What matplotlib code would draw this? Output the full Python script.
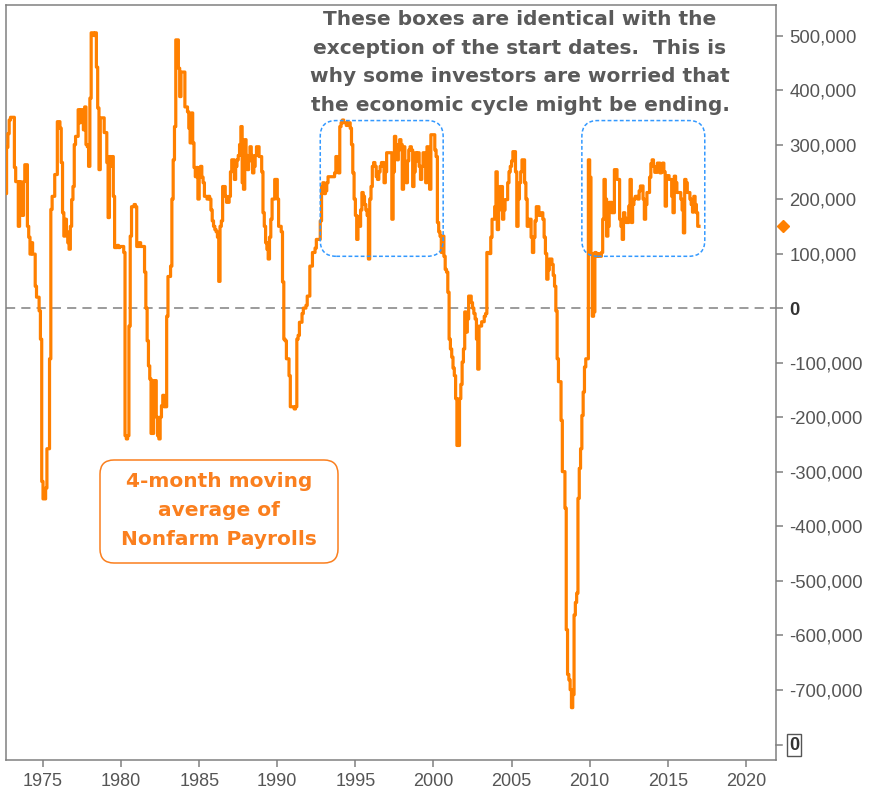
import matplotlib
matplotlib.use('Agg')
import matplotlib.pyplot as plt
import pandas as pd
from matplotlib.patches import FancyBboxPatch
from matplotlib.transforms import IdentityTransform, blended_transform_factory

# 4-month moving average of monthly nonfarm payroll changes
start_month = '1972-08'
nfp_1970s = [
    210, 295, 320, 345, 350,                                          # 1972 Aug-Dec
    350, 350, 258, 232, 232, 150, 232, 200, 170, 232, 263, 263,       # 1973
    150, 130, 99, 120, 99, 99, 40, 20, 20, -5, -57, -318,             # 1974
    -350, -350, -330, -258, -258, -93, 181, 205, 205, 245, 245, 342,  # 1975
    342, 330, 267, 175, 132, 163, 140, 120, 108, 150, 199, 223,       # 1976
    300, 315, 315, 364, 340, 364, 364, 327, 369, 300, 296, 260,       # 1977
    385, 505, 505, 500, 505, 442, 367, 254, 349, 349, 349, 322,       # 1978
    322, 267, 166, 278, 260, 278, 205, 111, 111, 115, 111, 113,       # 1979
]
nfp_1980s = [
    113, 113, 102, -234, -240, -234, -33, 132, 186, 186, 190, 186,
    113, 113, 120, 113, 113, 113, 66, 0, -60, -106, -130, -230,
    -230, -133, -133, -200, -234, -240, -200, -179, -160, -181, -181, -15,
    58, 58, 77, 200, 272, 333, 492, 492, 440, 388, 433, 433,
    433, 369, 369, 360, 330, 303, 358, 303, 258, 241, 258, 200,
    248, 260, 240, 230, 205, 205, 200, 205, 200, 180, 160, 150,
    144, 140, 130, 49, 150, 160, 223, 223, 205, 194, 194, 205,
    250, 272, 272, 236, 260, 272, 280, 300, 333, 230, 218, 309,
    280, 254, 270, 296, 280, 248, 260, 280, 296, 296, 278, 278,
    250, 175, 150, 120, 108, 90, 130, 163, 200, 200, 236, 236,
]
nfp_1990s = [
    200, 150, 150, 140, 48, -57, -60, -93, -93, -124, -181, -181,
    -181, -185, -181, -57, -50, -26, -26, -10, 0, 0, 5, 22,
    22, 77, 77, 102, 102, 110, 126, 126, 126, 160, 223, 230,
    210, 215, 230, 241, 241, 241, 241, 241, 248, 278, 260, 248,
    333, 340, 345, 340, 340, 335, 340, 340, 330, 300, 248, 200,
    170, 126, 168, 150, 180, 212, 205, 190, 180, 170, 90, 200,
    223, 260, 267, 260, 241, 236, 250, 260, 267, 267, 230, 250,
    285, 285, 285, 285, 163, 250, 315, 300, 272, 290, 309, 300,
    218, 296, 260, 230, 270, 290, 296, 290, 223, 250, 285, 270,
    285, 260, 236, 260, 285, 285, 230, 296, 270, 218, 318, 318,
]
nfp_2000s = [
    318, 290, 278, 157, 140, 132, 102, 132, 95, 71, 66, 29,
    -57, -75, -90, -110, -124, -166, -252, -252, -166, -140, -99, -75,
    -7, -44, -20, 22, 22, 10, 0, -10, -20, -57, -112, -33,
    -33, -25, -25, -15, -10, 102, 102, 100, 130, 163, 163, 186,
    250, 144, 180, 223, 223, 163, 180, 199, 199, 230, 250, 260,
    270, 287, 287, 250, 150, 200, 230, 250, 272, 272, 230, 200,
    150, 163, 163, 130, 102, 130, 160, 186, 186, 170, 170, 175,
    163, 130, 100, 53, 70, 90, 90, 80, 60, 40, -5, -93,
    -135, -135, -206, -300, -300, -367, -590, -672, -682, -700, -733, -709,
    -563, -540, -523, -349, -294, -258, -197, -154, -108, -93, -93, 272,
]
nfp_2010s = [
    240, 100, -15, -7, 102, 95, 100, 95, 95, 102, 163, 236,
    200, 132, 150, 194, 194, 175, 175, 254, 254, 236, 236, 163,
    150, 126, 175, 165, 157, 157, 187, 236, 157, 190, 200, 205,
    205, 200, 215, 224, 224, 200, 163, 190, 212, 212, 240, 265,
    272, 260, 249, 249, 266, 266, 248, 250, 266, 250, 187, 243,
    243, 236, 236, 205, 175, 242, 230, 212, 212, 212, 200, 180,
    138, 236, 230, 212, 212, 200, 190, 176, 205, 190, 175, 150,
    150,
]

box_starts = [1992.75, 2009.5]   # the two "identical" boxes
box_span = 7.87                  # years
box_low, box_high = 95000, 344000

year_ticks = list(range(1975, 2021, 5))
value_ticks = list(range(-700000, 500001, 100000))

values = [v * 1000 for v in nfp_1970s + nfp_1980s + nfp_1990s + nfp_2000s + nfp_2010s]
months = pd.date_range(start_month, periods=len(values), freq='MS')
years = [d.year + (d.month - 1) / 12 for d in months]

ORANGE = '#FF8000'
GRAY = '#808080'
TXT = '#555555'
TICKFONT = ['Liberation Sans', 'DejaVu Sans']

fig = plt.figure(figsize=(8.69, 7.96), dpi=100)
ax = fig.add_axes([6 / 869, 36 / 796, 770 / 869, 755 / 796])

ax.axhline(0, color=GRAY, lw=1.1, ls=(0, (6, 4)), zorder=1)
ax.plot(years, values, drawstyle='steps-post', color=ORANGE, lw=2.3, zorder=3)

ax.set_xlim(1972.63, 2021.93)
ax.set_ylim(-829000, 556000)

for s in ax.spines.values():
    s.set_color(GRAY)
    s.set_linewidth(1.1)

ax.yaxis.tick_right()
ax.set_yticks(value_ticks, ['{:,}'.format(v) for v in value_ticks])
ax.set_xticks(year_ticks, [str(y) for y in year_ticks])
ax.tick_params(axis='y', direction='out', length=5, width=1.1, color=GRAY,
               labelcolor=TXT, pad=4.5)
ax.tick_params(axis='x', direction='out', length=5, width=1.1, color=GRAY,
               labelcolor=TXT, pad=4)
for lab in ax.get_xticklabels():
    lab.set_family(TICKFONT)
    lab.set_fontsize(13)
for lab, v in zip(ax.get_yticklabels(), value_ticks):
    lab.set_family(TICKFONT)
    lab.set_fontsize(13.3)
    if v == 0:
        lab.set_fontweight('bold')
        lab.set_color('#333333')

# last value marker on the axis
last = blended_transform_factory(ax.transAxes, ax.transData)
ax.plot([1 + 7 / 770], [values[-1]], marker='D', ms=6.5, color=ORANGE,
        transform=last, clip_on=False, zorder=5)

# secondary zero tick at the bottom right
yf = 15 / 755
ax.plot([1, 1 + 6 / 770], [yf, yf], color=GRAY, lw=1.1, transform=ax.transAxes, clip_on=False)
ax.text(1 + 13 / 770, yf, '0', transform=ax.transAxes, ha='left', va='center',
        fontsize=13, fontweight='bold', color='#333333', family=TICKFONT,
        bbox=dict(boxstyle='square,pad=0.12', fc='none', ec='#555555', lw=1))

# dashed blue boxes around the two periods
for start in box_starts:
    x0, y0 = ax.transData.transform((start, box_low))
    x1, y1 = ax.transData.transform((start + box_span, box_high))
    fig.add_artist(FancyBboxPatch((x0, y0), x1 - x0, y1 - y0,
                                  boxstyle='round,pad=0,rounding_size=16',
                                  fc='none', ec='#3399FF', lw=1.1, ls=(0, (2.5, 1.5)),
                                  transform=IdentityTransform(), zorder=4))

fig.text(520 / 869, 1 - 62.5 / 796,
         'These boxes are identical with the\nexception of the start dates.  This is\n'
         'why some investors are worried that\nthe economic cycle might be ending.',
         ha='center', va='center', fontsize=14.5, fontweight='bold', color='#5a5a5a',
         linespacing=1.63)

fig.add_artist(FancyBboxPatch((100, 796 - 563), 238, 103,
                              boxstyle='round,pad=0,rounding_size=14',
                              fc='white', ec='#FA7F1E', lw=1.1,
                              transform=IdentityTransform(), zorder=4))
fig.text(219 / 869, 1 - 510.5 / 796, '4-month moving\naverage of\nNonfarm Payrolls',
         ha='center', va='center', fontsize=14.5, fontweight='bold', color='#FA7F1E',
         linespacing=1.65, zorder=5)

fig.savefig('out.png', dpi=100)
